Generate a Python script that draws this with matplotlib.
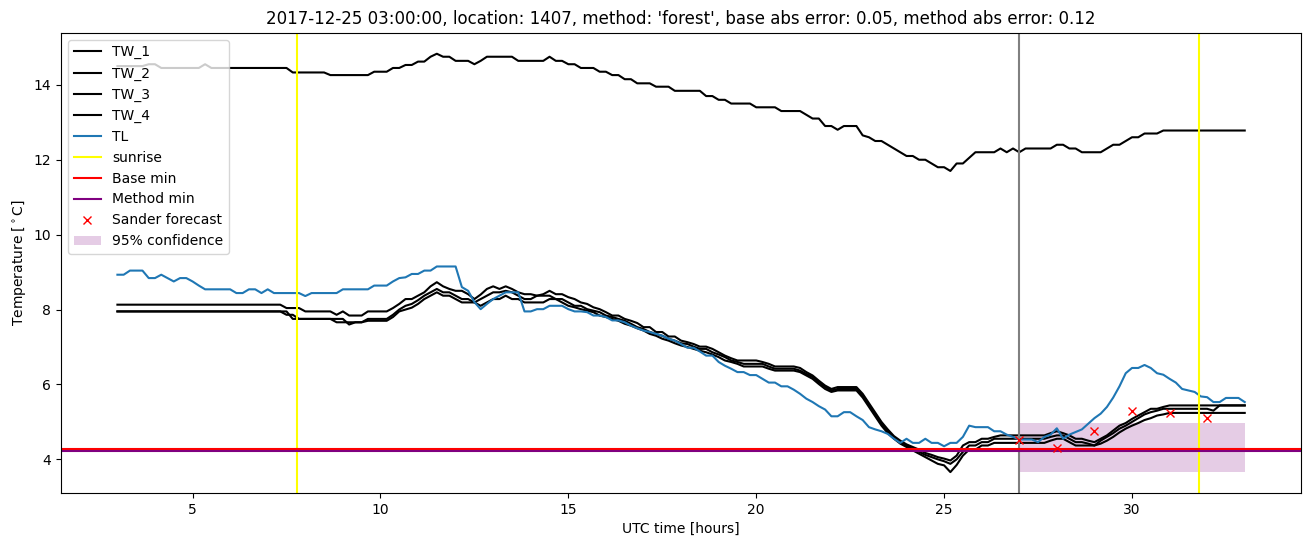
import numpy as np
import pandas as pd
import matplotlib
matplotlib.use("Agg")
import matplotlib.pyplot as plt

# ---------------- data ----------------
start_time = "2017-12-25 03:00"
end_time = "2017-12-26 09:00"
sample_freq = "10min"

TW_1 = [
    14.5, 14.5, 14.5, 14.5, 14.5, 14.55,
    14.55, 14.45, 14.45, 14.45, 14.45, 14.45,
    14.45, 14.45, 14.55, 14.45, 14.45, 14.45,
    14.45, 14.45, 14.45, 14.45, 14.45, 14.45,
    14.45, 14.45, 14.45, 14.45, 14.33, 14.33,
    14.33, 14.33, 14.33, 14.33, 14.26, 14.26,
    14.26, 14.26, 14.26, 14.26, 14.26, 14.35,
    14.35, 14.35, 14.45, 14.45, 14.53, 14.53,
    14.62, 14.62, 14.75, 14.83, 14.75, 14.75,
    14.64, 14.64, 14.64, 14.55, 14.64, 14.75,
    14.75, 14.75, 14.75, 14.75, 14.64, 14.64,
    14.64, 14.64, 14.64, 14.75, 14.64, 14.64,
    14.55, 14.55, 14.45, 14.45, 14.45, 14.35,
    14.35, 14.26, 14.26, 14.15, 14.15, 14.04,
    14.04, 14.04, 13.95, 13.95, 13.95, 13.84,
    13.84, 13.84, 13.84, 13.84, 13.7, 13.7,
    13.6, 13.6, 13.5, 13.5, 13.5, 13.5,
    13.4, 13.4, 13.4, 13.4, 13.3, 13.3,
    13.3, 13.3, 13.2, 13.1, 13.1, 12.9,
    12.9, 12.8, 12.9, 12.9, 12.9, 12.65,
    12.6, 12.5, 12.5, 12.4, 12.3, 12.2,
    12.1, 12.1, 12.0, 12.0, 11.9, 11.8,
    11.8, 11.7, 11.9, 11.9, 12.05, 12.2,
    12.2, 12.2, 12.2, 12.3, 12.2, 12.3,
    12.2, 12.3, 12.3, 12.3, 12.3, 12.3,
    12.4, 12.4, 12.3, 12.3, 12.2, 12.2,
    12.2, 12.2, 12.3, 12.4, 12.4, 12.5,
    12.6, 12.6, 12.7, 12.7, 12.7, 12.78,
    12.78, 12.78, 12.78, 12.78, 12.78, 12.78,
    12.78, 12.78, 12.78, 12.78, 12.78, 12.78,
    12.78,
]

TW_2 = [
    8.13, 8.13, 8.13, 8.13, 8.13, 8.13,
    8.13, 8.13, 8.13, 8.13, 8.13, 8.13,
    8.13, 8.13, 8.13, 8.13, 8.13, 8.13,
    8.13, 8.13, 8.13, 8.13, 8.13, 8.13,
    8.13, 8.13, 8.13, 8.04, 8.04, 8.04,
    7.95, 7.95, 7.95, 7.95, 7.95, 7.86,
    7.95, 7.84, 7.84, 7.84, 7.95, 7.95,
    7.95, 7.95, 8.04, 8.15, 8.28, 8.28,
    8.37, 8.46, 8.62, 8.73, 8.62, 8.55,
    8.5, 8.5, 8.41, 8.28, 8.4, 8.55,
    8.62, 8.55, 8.62, 8.55, 8.46, 8.41,
    8.41, 8.37, 8.41, 8.5, 8.41, 8.41,
    8.33, 8.28, 8.19, 8.15, 8.06, 8.01,
    7.93, 7.84, 7.84, 7.75, 7.7, 7.64,
    7.53, 7.53, 7.4, 7.4, 7.28, 7.28,
    7.17, 7.13, 7.08, 7.01, 7.01, 6.95,
    6.86, 6.77, 6.7, 6.64, 6.64, 6.64,
    6.64, 6.6, 6.55, 6.48, 6.48, 6.48,
    6.48, 6.44, 6.33, 6.24, 6.1, 5.97,
    5.88, 5.93, 5.93, 5.93, 5.93, 5.75,
    5.5, 5.25, 5.0, 4.8, 4.62, 4.5,
    4.4, 4.33, 4.26, 4.17, 4.12, 4.06,
    4.02, 3.97, 4.1, 4.37, 4.46, 4.46,
    4.55, 4.55, 4.6, 4.64, 4.64, 4.64,
    4.64, 4.64, 4.64, 4.64, 4.64, 4.7,
    4.75, 4.7, 4.64, 4.55, 4.55, 4.5,
    4.46, 4.55, 4.64, 4.77, 4.9, 4.97,
    5.08, 5.17, 5.26, 5.35, 5.35, 5.4,
    5.44, 5.44, 5.44, 5.44, 5.44, 5.44,
    5.44, 5.44, 5.44, 5.44, 5.44, 5.44,
    5.44,
]

TW_3 = [
    7.95, 7.95, 7.95, 7.95, 7.95, 7.95,
    7.95, 7.95, 7.95, 7.95, 7.95, 7.95,
    7.95, 7.95, 7.95, 7.95, 7.95, 7.95,
    7.95, 7.95, 7.95, 7.95, 7.95, 7.95,
    7.95, 7.95, 7.95, 7.86, 7.86, 7.75,
    7.75, 7.75, 7.75, 7.75, 7.75, 7.66,
    7.66, 7.66, 7.66, 7.66, 7.75, 7.75,
    7.75, 7.75, 7.86, 8.0, 8.1, 8.15,
    8.25, 8.37, 8.46, 8.55, 8.46, 8.46,
    8.37, 8.28, 8.28, 8.19, 8.28, 8.37,
    8.46, 8.46, 8.5, 8.46, 8.37, 8.28,
    8.28, 8.37, 8.37, 8.37, 8.28, 8.28,
    8.19, 8.1, 8.1, 8.01, 7.97, 7.93,
    7.84, 7.8, 7.75, 7.7, 7.62, 7.53,
    7.48, 7.4, 7.35, 7.3, 7.22, 7.17,
    7.1, 7.08, 7.01, 6.95, 6.95, 6.86,
    6.8, 6.73, 6.64, 6.6, 6.55, 6.55,
    6.55, 6.55, 6.48, 6.42, 6.42, 6.42,
    6.42, 6.37, 6.28, 6.2, 6.06, 5.93,
    5.84, 5.88, 5.88, 5.88, 5.88, 5.7,
    5.45, 5.2, 4.95, 4.75, 4.58, 4.46,
    4.37, 4.28, 4.2, 4.12, 4.06, 4.0,
    3.95, 3.88, 4.0, 4.2, 4.37, 4.37,
    4.46, 4.46, 4.55, 4.55, 4.55, 4.55,
    4.55, 4.55, 4.55, 4.55, 4.55, 4.6,
    4.64, 4.64, 4.55, 4.46, 4.46, 4.42,
    4.37, 4.5, 4.6, 4.7, 4.82, 4.9,
    5.0, 5.1, 5.2, 5.26, 5.3, 5.35,
    5.35, 5.35, 5.35, 5.35, 5.35, 5.35,
    5.35, 5.3, 5.44, 5.44, 5.44, 5.44,
    5.44,
]

TW_4 = [
    7.95, 7.95, 7.95, 7.95, 7.95, 7.95,
    7.95, 7.95, 7.95, 7.95, 7.95, 7.95,
    7.95, 7.95, 7.95, 7.95, 7.95, 7.95,
    7.95, 7.95, 7.95, 7.95, 7.95, 7.95,
    7.95, 7.95, 7.95, 7.95, 7.75, 7.75,
    7.75, 7.75, 7.75, 7.75, 7.75, 7.75,
    7.75, 7.6, 7.66, 7.66, 7.7, 7.7,
    7.7, 7.7, 7.8, 7.95, 8.0, 8.05,
    8.15, 8.28, 8.37, 8.46, 8.37, 8.37,
    8.28, 8.19, 8.19, 8.19, 8.1, 8.19,
    8.28, 8.28, 8.37, 8.28, 8.28, 8.19,
    8.19, 8.19, 8.19, 8.28, 8.28, 8.19,
    8.1, 8.06, 8.01, 7.97, 7.93, 7.84,
    7.8, 7.75, 7.7, 7.62, 7.57, 7.5,
    7.44, 7.35, 7.3, 7.22, 7.17, 7.1,
    7.04, 7.0, 6.95, 6.9, 6.86, 6.8,
    6.73, 6.64, 6.6, 6.55, 6.48, 6.48,
    6.48, 6.48, 6.42, 6.37, 6.37, 6.37,
    6.37, 6.33, 6.24, 6.15, 6.01, 5.88,
    5.8, 5.84, 5.84, 5.84, 5.84, 5.65,
    5.4, 5.15, 4.9, 4.7, 4.55, 4.42,
    4.33, 4.24, 4.15, 4.06, 3.97, 3.88,
    3.84, 3.66, 3.85, 4.1, 4.26, 4.26,
    4.37, 4.37, 4.44, 4.44, 4.44, 4.44,
    4.44, 4.44, 4.44, 4.44, 4.44, 4.5,
    4.55, 4.55, 4.46, 4.37, 4.37, 4.37,
    4.37, 4.42, 4.5, 4.6, 4.72, 4.82,
    4.9, 4.97, 5.05, 5.1, 5.17, 5.2,
    5.24, 5.24, 5.24, 5.24, 5.24, 5.24,
    5.24, 5.24, 5.24, 5.24, 5.24, 5.24,
    5.24,
]

TL = [
    8.93, 8.93, 9.04, 9.04, 9.04, 8.84,
    8.84, 8.93, 8.84, 8.75, 8.84, 8.84,
    8.75, 8.64, 8.54, 8.54, 8.54, 8.54,
    8.54, 8.44, 8.44, 8.54, 8.54, 8.44,
    8.54, 8.44, 8.44, 8.44, 8.44, 8.44,
    8.36, 8.44, 8.44, 8.44, 8.44, 8.44,
    8.54, 8.54, 8.54, 8.54, 8.54, 8.64,
    8.64, 8.64, 8.75, 8.84, 8.86, 8.95,
    8.95, 9.04, 9.04, 9.15, 9.15, 9.15,
    9.15, 8.6, 8.5, 8.2, 8.01, 8.15,
    8.28, 8.37, 8.46, 8.46, 8.46, 7.95,
    7.95, 8.01, 8.01, 8.1, 8.1, 8.1,
    8.01, 7.95, 7.95, 7.93, 7.84, 7.84,
    7.8, 7.71, 7.71, 7.66, 7.57, 7.5,
    7.44, 7.4, 7.35, 7.3, 7.22, 7.17,
    7.08, 6.98, 6.98, 6.88, 6.77, 6.77,
    6.6, 6.5, 6.42, 6.33, 6.33, 6.25,
    6.25, 6.15, 6.05, 6.05, 5.95, 5.95,
    5.86, 5.75, 5.62, 5.53, 5.42, 5.33,
    5.15, 5.15, 5.26, 5.26, 5.15, 5.05,
    4.86, 4.8, 4.75, 4.68, 4.55, 4.44,
    4.55, 4.44, 4.44, 4.55, 4.44, 4.44,
    4.35, 4.44, 4.44, 4.6, 4.9, 4.86,
    4.86, 4.86, 4.75, 4.75, 4.66, 4.6,
    4.53, 4.53, 4.53, 4.46, 4.6, 4.66,
    4.83, 4.55, 4.66, 4.73, 4.8, 4.95,
    5.1, 5.22, 5.4, 5.65, 5.95, 6.3,
    6.44, 6.44, 6.52, 6.44, 6.3, 6.26,
    6.15, 6.05, 5.88, 5.84, 5.8, 5.68,
    5.66, 5.53, 5.53, 5.64, 5.64, 5.64,
    5.53,
]

sunrise_hours = [7.77, 31.78]
forecast_start_hour = 27.0
base_min = 4.28
method_min = 4.22
forecast_hours = [27, 28, 29, 30, 31, 32]
forecast_values = [4.53, 4.29, 4.77, 5.28, 5.24, 5.10]
conf_hours = [27.0, 33.0]
conf_low = 3.66
conf_high = 4.97

title = ("2017-12-25 03:00:00, location: 1407, method: 'forest', "
         "base abs error: 0.05, method abs error: 0.12")

# ---------------- plot ----------------
times = pd.date_range(start_time, end_time, freq=sample_freq)
hours = (times - pd.Timestamp("2017-12-25 00:00")) / pd.Timedelta(hours=1)
hours = np.asarray(hours, dtype=float)

fig = plt.figure(figsize=(13.1, 5.47), dpi=100)
ax = fig.add_axes([0.0466, 0.0987, 0.9466, 0.8413])

for name, series in [("TW_1", TW_1), ("TW_2", TW_2), ("TW_3", TW_3), ("TW_4", TW_4)]:
    ax.plot(hours, series, color="black", label=name)
ax.plot(hours, TL, color="tab:blue", label="TL")

for i, sr in enumerate(sunrise_hours):
    ax.axvline(sr, color="yellow", label="sunrise" if i == 0 else None)
ax.axvline(forecast_start_hour, color="grey")
ax.axhline(base_min, color="red", label="Base min")
ax.axhline(method_min, color="purple", label="Method min")
ax.plot(forecast_hours, forecast_values, "x", color="red", label="Sander forecast")
ax.fill_between(conf_hours, [conf_low] * 2, [conf_high] * 2, color="purple",
                alpha=0.2, linewidth=0, label="95% confidence")

ax.set_title(title)
ax.set_xlabel("UTC time [hours]")
ax.set_ylabel(r"Temperature [$^\circ$C]")
ax.legend(loc="upper left")

fig.savefig("out.png", dpi=100)
